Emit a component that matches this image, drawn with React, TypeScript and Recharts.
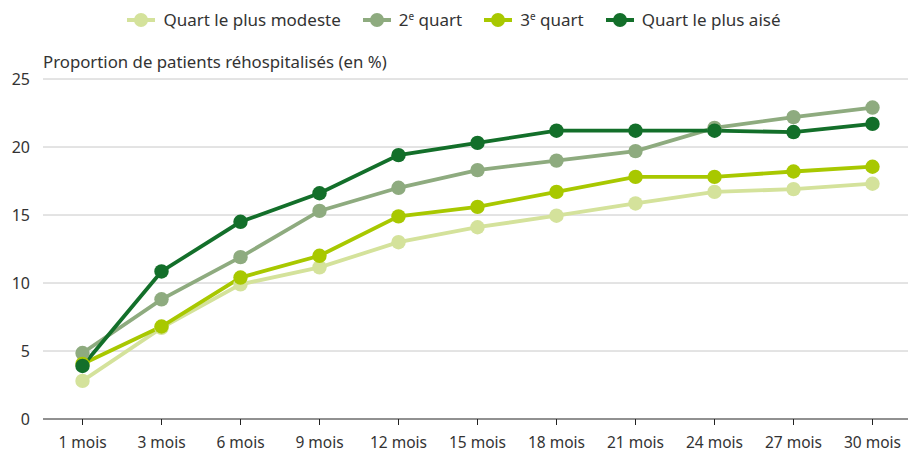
import { LineChart, Line, XAxis, YAxis, CartesianGrid } from 'recharts'

const months = ['1 mois', '3 mois', '6 mois', '9 mois', '12 mois', '15 mois', '18 mois', '21 mois', '24 mois', '27 mois', '30 mois']

// Proportion de patients réhospitalisés (en %), par quart de niveau de vie
const modeste = [2.8, 6.7, 9.9, 11.15, 13.0, 14.1, 14.95, 15.85, 16.7, 16.9, 17.3]
const deuxieme = [4.85, 8.8, 11.9, 15.3, 17.0, 18.3, 19.0, 19.7, 21.4, 22.2, 22.9]
const troisieme = [4.05, 6.8, 10.4, 12.0, 14.9, 15.6, 16.7, 17.8, 17.8, 18.2, 18.55]
const aise = [3.9, 10.85, 14.5, 16.6, 19.4, 20.3, 21.2, 21.2, 21.2, 21.1, 21.7]

const yTicks = [0, 5, 10, 15, 20, 25]

const FONT = '"Noto Sans", sans-serif'
const TEXT = '#333333'

const Sup = ({ children }: { children: string }) => (
  <span style={{ fontSize: 10, position: 'relative', top: -6, lineHeight: 0 }}>{children}</span>
)

const series = [
  { key: 'modeste', color: '#d4e29b', label: <>Quart le plus modeste</> },
  { key: 'deuxieme', color: '#8eab7f', label: <>2<Sup>e</Sup>&nbsp;quart</> },
  { key: 'troisieme', color: '#a8c800', label: <>3<Sup>e</Sup>&nbsp;quart</> },
  { key: 'aise', color: '#136f2a', label: <>Quart le plus aisé</> }
]

const data = months.map((m, i) => ({
  month: m,
  modeste: modeste[i],
  deuxieme: deuxieme[i],
  troisieme: troisieme[i],
  aise: aise[i]
}))

function LegendBar() {
  return (
    <div
      style={{
        position: 'absolute',
        top: 7,
        left: 0,
        width: 908,
        display: 'flex',
        justifyContent: 'center',
        gap: 22,
        fontFamily: FONT,
        fontSize: 17,
        color: TEXT,
        lineHeight: '26px'
      }}
    >
      {series.map((s) => (
        <div key={s.key} style={{ display: 'flex', alignItems: 'center' }}>
          <svg width={28} height={16} style={{ marginRight: 8 }}>
            <line x1={0} y1={8} x2={28} y2={8} stroke={s.color} strokeWidth={4} />
            <circle cx={14} cy={8} r={7} fill={s.color} />
          </svg>
          <span>{s.label}</span>
        </div>
      ))}
    </div>
  )
}

export default function App() {
  return (
    <div style={{ position: 'absolute', left: 0, top: 0, width: 908, height: 455, overflow: 'hidden', background: '#fff' }}>
      <LegendBar />
      <div
        style={{
          position: 'absolute',
          left: 43,
          top: 50,
          fontFamily: FONT,
          fontSize: 16.8,
          color: TEXT,
          whiteSpace: 'nowrap'
        }}
      >
        Proportion de patients réhospitalisés (en %)
      </div>
      <LineChart
        width={912}
        height={455}
        data={data}
        margin={{ top: 79, right: 0, bottom: 0, left: 0 }}
        style={{ fontFamily: FONT }}
      >
        <CartesianGrid vertical={false} stroke="#c8c8c8" horizontalValues={[5, 10, 15, 20, 25]} />
        <XAxis
          dataKey="month"
          height={36}
          stroke="#222"
          tickSize={6}
          tickMargin={12}
          padding={{ left: 39.5, right: 39.5 }}
          tick={{ fill: TEXT, fontSize: 15.5 }}
          interval={0}
        />
        <YAxis
          width={43}
          domain={[0, 25]}
          ticks={yTicks}
          axisLine={false}
          tickLine={false}
          tickSize={0}
          tickMargin={13}
          tick={{ fill: TEXT, fontSize: 16 }}
        />
        {series.map((s) => (
          <Line
            key={s.key}
            dataKey={s.key}
            stroke={s.color}
            strokeWidth={3.8}
            dot={{ r: 7.2, fill: s.color, stroke: 'none' }}
            activeDot={false}
            isAnimationActive={false}
          />
        ))}
      </LineChart>
    </div>
  )
}
